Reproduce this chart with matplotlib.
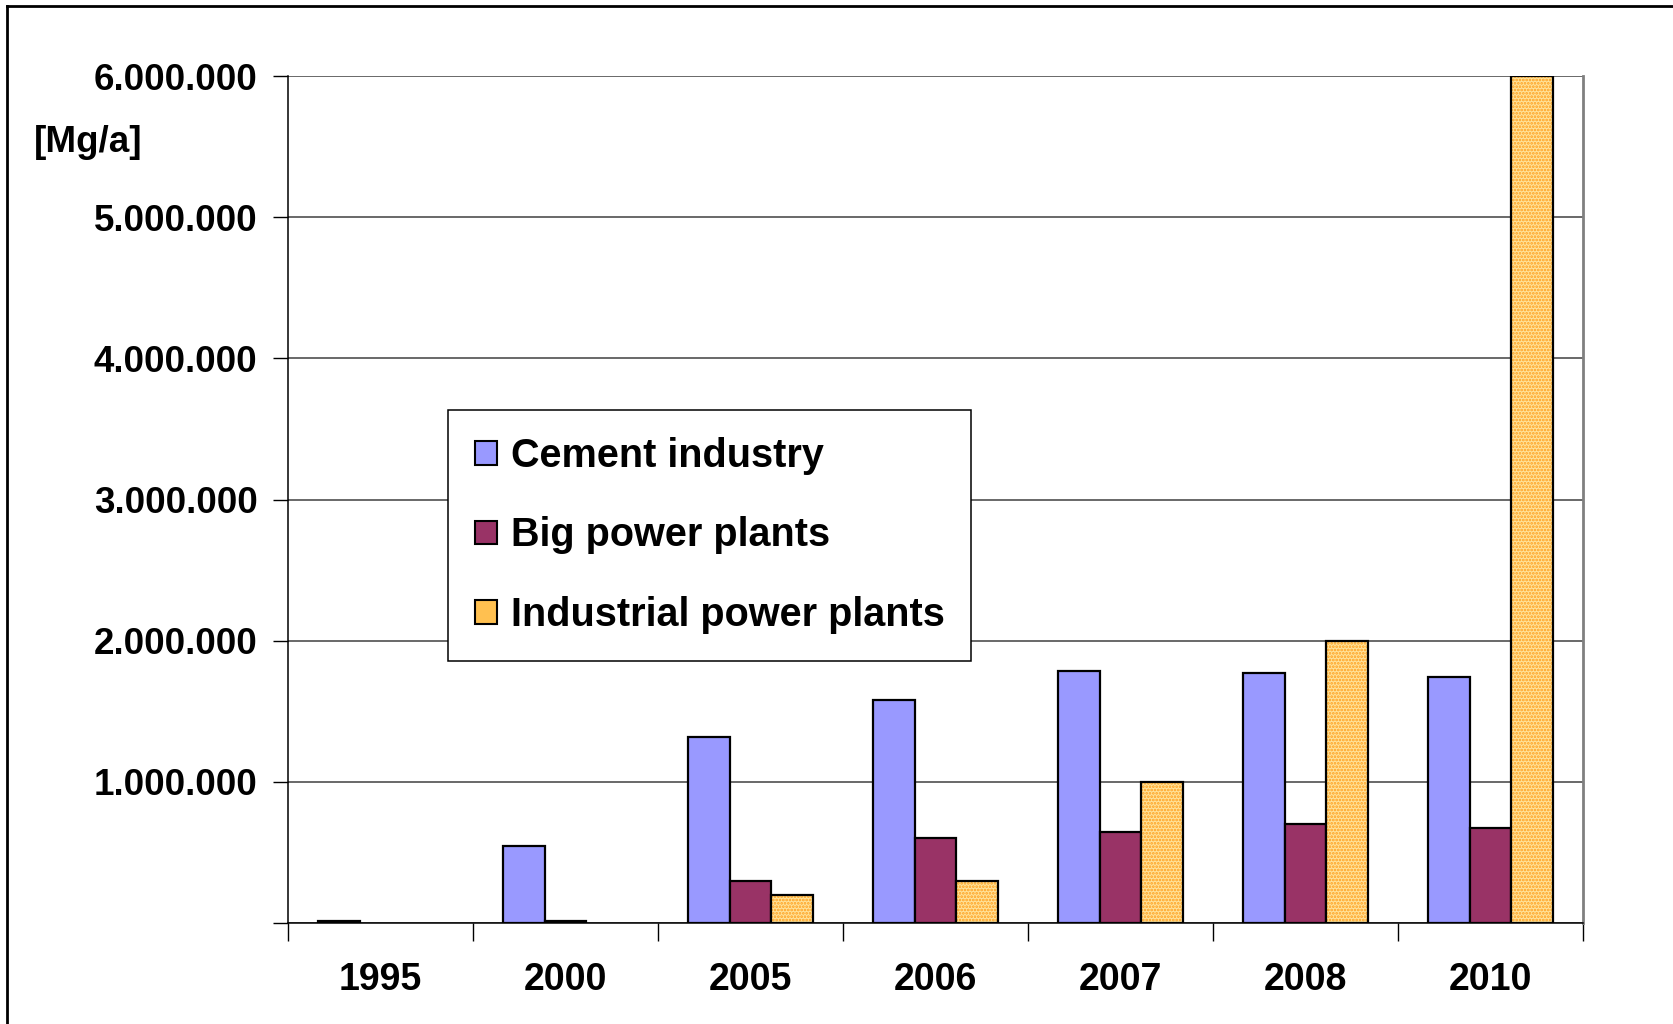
import matplotlib
matplotlib.use("Agg")
import matplotlib.pyplot as plt
import numpy as np
from matplotlib.patches import Patch
from matplotlib.ticker import FuncFormatter, FixedLocator
from matplotlib.lines import Line2D

years = ["1995", "2000", "2005", "2006", "2007", "2008", "2010"]
cement = [15000, 545000, 1320000, 1580000, 1788000, 1772000, 1745000]
big_power = [0, 15000, 300000, 600000, 645000, 698000, 675000]
industrial = [0, 0, 200000, 300000, 1000000, 2000000, 6000000]
series_names = ["Cement industry", "Big power plants", "Industrial power plants"]
y_ticks = [0, 1000000, 2000000, 3000000, 4000000, 5000000, 6000000]

plt.rcParams['font.family'] = ['Liberation Sans', 'DejaVu Sans']
plt.rcParams['font.weight'] = 'bold'
plt.rcParams['hatch.linewidth'] = 1.3

W, H = 1673, 1024
fig = plt.figure(figsize=(W / 100, H / 100), dpi=100)
ax = fig.add_axes([288 / W, 1 - 923 / H, (1583 - 288) / W, (923 - 76) / H])

x = np.arange(len(years))
bw = 0.225
c_blue = '#9999FF'
c_red = '#993366'
c_yel_bg = '#FFE39A'
c_yel_hatch = '#FF9F1C'


def nz(vals):
    v = np.asarray(vals, dtype=float)
    m = v > 0
    return m, v[m]


m, v = nz(cement)
ax.bar(x[m] - bw, v, bw, color=c_blue, edgecolor='black', linewidth=1.6, zorder=3)
m, v = nz(big_power)
ax.bar(x[m], v, bw, color=c_red, edgecolor='black', linewidth=1.6, zorder=3)
m, v = nz(industrial)
ax.bar(x[m] + bw, v, bw, color=c_yel_bg, edgecolor=c_yel_hatch, hatch='.....',
       linewidth=0, zorder=3)
ax.bar(x[m] + bw, v, bw, fill=False, edgecolor='black', linewidth=1.6, zorder=4)

ax.set_xlim(-0.5, len(years) - 0.5)
ax.set_ylim(0, 6000000)

ax.yaxis.set_major_locator(FixedLocator(y_ticks))
ax.yaxis.set_major_formatter(FuncFormatter(
    lambda v, p: '' if v == 0 else f"{int(v):,}".replace(',', '.')))
ax.tick_params(axis='y', direction='out', length=11, width=1, pad=11, labelsize=26.5,
               color='black')
for lab in ax.get_yticklabels():
    lab.set_fontweight('bold')

ax.set_xticks(np.arange(len(years) + 1) - 0.5)
ax.set_xticklabels([])
ax.set_xticks(x, minor=True)
ax.set_xticklabels(years, minor=True, fontsize=27, fontweight='bold')
ax.tick_params(axis='x', which='major', direction='out', length=13, width=1, color='black')
ax.tick_params(axis='x', which='minor', length=0, pad=28)

ax.grid(axis='y', color='#404040', linewidth=1.1, zorder=0)
ax.set_axisbelow(True)
ax.spines['left'].set_color('black')
ax.spines['left'].set_linewidth(1.1)
ax.spines['bottom'].set_color('black')
ax.spines['bottom'].set_linewidth(1.1)
ax.spines['right'].set_color('#808080')
ax.spines['right'].set_linewidth(2)
ax.spines['top'].set_visible(False)

fig.text(34 / W, 1 - 143 / H, "[Mg/a]", fontsize=26.5, fontweight='bold',
         ha='left', va='center')

handles = [
    Patch(facecolor=c_blue, edgecolor='black', linewidth=1.5),
    Patch(facecolor=c_red, edgecolor='black', linewidth=1.5),
    Patch(facecolor='#FFC050', edgecolor='black', linewidth=1.5),
]
leg = ax.legend(handles, series_names, loc='upper left',
                bbox_to_anchor=((448 - 288) / 1295, (923 - 410) / 847),
                prop={'weight': 'bold', 'size': 28.5},
                frameon=True, fancybox=False, edgecolor='black', framealpha=1,
                handlelength=0.55, handleheight=0.55, handletextpad=0.35,
                labelspacing=1.05, borderpad=0.68, borderaxespad=0)
leg.get_frame().set_linewidth(1.1)
leg.set_zorder(10)

# outer frame
fig.add_artist(Line2D([7 / W, 7 / W], [0, 1 - 6 / H], color='black', linewidth=2,
                      transform=fig.transFigure))
fig.add_artist(Line2D([7 / W, 1], [1 - 6 / H, 1 - 6 / H], color='black', linewidth=2,
                      transform=fig.transFigure))

fig.savefig("out.png", dpi=100)
